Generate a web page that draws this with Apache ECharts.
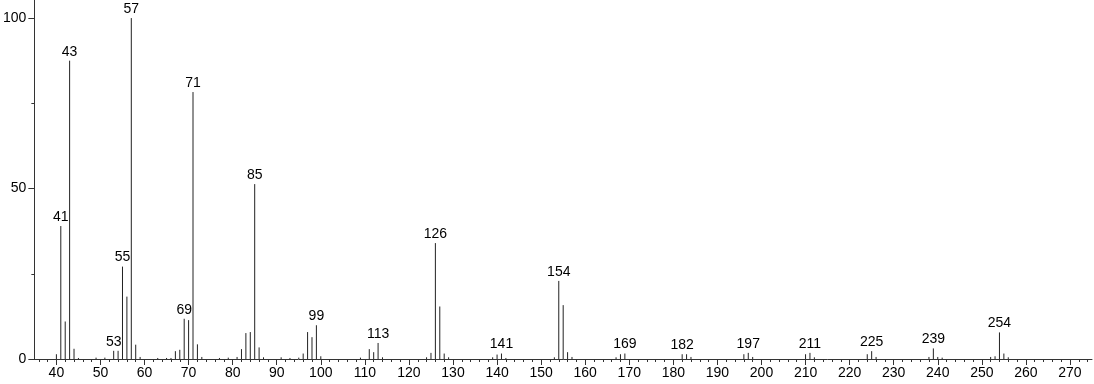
<!DOCTYPE html>
<html>
<head>
<meta charset="utf-8">
<script src="https://cdn.jsdelivr.net/npm/echarts@6/dist/echarts.min.js"></script>
<style>html,body{margin:0;padding:0;background:#fff;}#c{width:1094px;height:384px;}</style>
</head>
<body>
<div id="c"></div>
<script>
// m/z values and relative intensities
const mz = [40,41,42,43,44,45,49,51,53,54,55,56,57,58,59,63,65,66,67,68,69,70,71,72,73,77,79,81,82,83,84,85,86,87,91,93,95,96,97,98,99,100,109,111,112,113,114,124,125,126,127,128,129,139,140,141,142,153,154,155,156,157,167,168,169,182,183,184,196,197,198,210,211,212,224,225,226,238,239,240,241,252,253,254,255,256];
const intensity = [1.4,39.0,11.0,87.5,3.0,0.3,0.4,0.4,2.4,2.4,27.1,18.3,100,4.2,0.6,0.3,0.3,0.3,2.3,2.7,11.8,11.4,78.3,4.3,0.6,0.3,0.4,0.6,2.9,7.6,7.9,51.3,3.4,0.5,0.5,0.3,0.4,1.6,7.9,6.4,9.9,0.8,0.4,2.9,2.0,4.7,0.5,0.5,1.8,34.0,15.4,1.6,0.5,0.5,1.3,1.6,0.3,0.5,22.9,15.8,2.0,0.6,0.5,1.4,1.6,1.4,1.4,0.6,1.4,1.8,0.6,1.4,1.8,0.5,1.4,2.3,0.6,0.6,3.1,0.6,0.4,0.6,0.8,7.8,1.6,0.5];
const labeledPeaks = [41,43,53,55,57,69,71,85,99,113,126,141,154,169,182,197,211,225,239,254];
const xTickLabels = [40,50,60,70,80,90,100,110,120,130,140,150,160,170,180,190,200,210,220,230,240,250,260,270];
const yTickLabels = [0,50,100];
const yMinorTicks = [25,75];
const xMinorTicks = [];
for (let v = 36; v <= 274; v += 2) { if (v % 10 !== 0) xMinorTicks.push(v); }

const data = mz.map((m, i) => [m, intensity[i], labeledPeaks.indexOf(m) >= 0 ? 1 : 0]);

const font = '"Liberation Sans", Arial, sans-serif';
const chart = echarts.init(document.getElementById('c'), null, { renderer: 'canvas' });
chart.setOption({
  animation: false,
  backgroundColor: '#fff',
  grid: { left: 30, right: 2, top: 0, bottom: 25, containLabel: false },
  xAxis: [{
    type: 'value', min: 35, max: 275, position: 'bottom',
    axisLine: { show: true, onZero: false, lineStyle: { color: '#333', width: 1 } },
    axisTick: { show: true, customValues: xTickLabels, length: 6, lineStyle: { color: '#333' } },
    axisLabel: { customValues: xTickLabels, color: '#000', fontSize: 14, fontFamily: font, margin: 7 },
    splitLine: { show: false }
  }, {
    type: 'value', min: 35, max: 275, position: 'bottom',
    axisLine: { show: false },
    axisTick: { show: true, customValues: xMinorTicks, length: 3, lineStyle: { color: '#333' } },
    axisLabel: { show: false },
    splitLine: { show: false }
  }],
  yAxis: [{
    type: 'value', min: 0, max: 105.3,
    axisLine: { show: true, onZero: false, lineStyle: { color: '#333', width: 1 } },
    axisTick: { show: true, customValues: yTickLabels, length: 6, lineStyle: { color: '#333' } },
    axisLabel: { customValues: yTickLabels, color: '#000', fontSize: 14, fontFamily: font, margin: 8 },
    splitLine: { show: false }
  }, {
    type: 'value', min: 0, max: 105.3, position: 'left',
    axisLine: { show: false },
    axisTick: { show: true, customValues: yMinorTicks, length: 3, lineStyle: { color: '#333' } },
    axisLabel: { show: false },
    splitLine: { show: false }
  }],
  series: [{
    type: 'custom',
    xAxisIndex: 0, yAxisIndex: 0,
    encode: { x: 0, y: 1 },
    clip: false,
    renderItem: function (params, api) {
      const x = api.value(0), y = api.value(1), lab = api.value(2);
      const top = api.coord([x, y]);
      const base = api.coord([x, 0]);
      const children = [{
        type: 'line',
        shape: { x1: base[0], y1: base[1], x2: top[0], y2: top[1] },
        style: { stroke: '#222', lineWidth: 1 }
      }];
      if (lab) {
        children.push({
          type: 'text',
          style: {
            x: top[0], y: top[1] - 2, text: String(x),
            align: 'center', verticalAlign: 'bottom',
            fill: '#000', font: '14px ' + font
          }
        });
      }
      return { type: 'group', children: children };
    },
    data: data
  }]
});
</script>
</body>
</html>
